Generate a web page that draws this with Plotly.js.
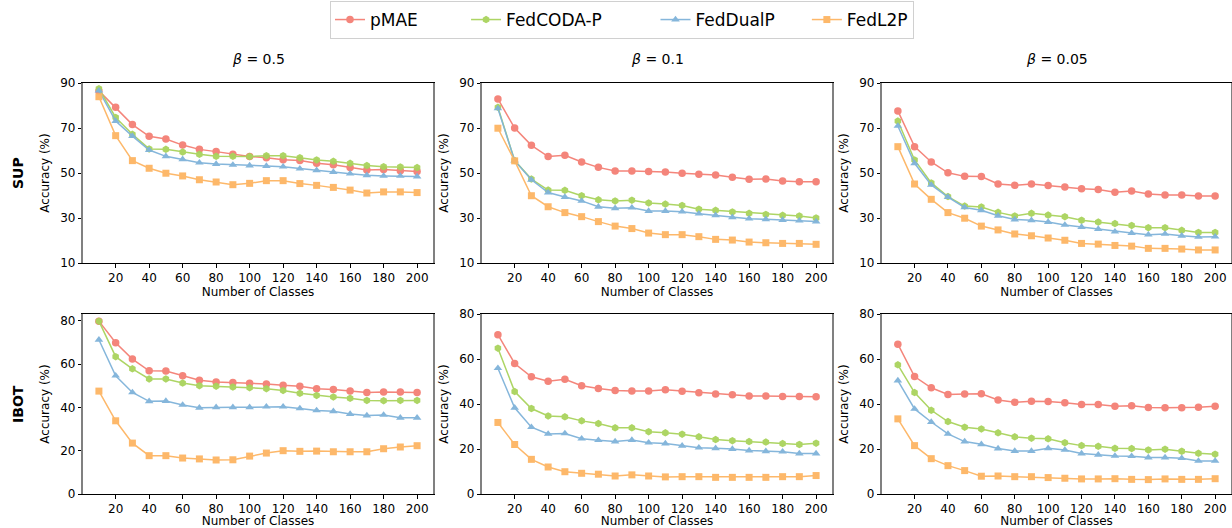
<!DOCTYPE html>
<html>
<head>
<meta charset="utf-8">
<script src="https://cdn.plot.ly/plotly-3.0.1.min.js"></script>
<style>
  html, body { margin: 0; padding: 0; background: #ffffff; }
  #chart { width: 1232px; height: 528px; }
</style>
</head>
<body>
<div id="chart"></div>
<script>
// ---------------- data ----------------
const classes = [10, 20, 30, 40, 50, 60, 70, 80, 90, 100, 110, 120, 130, 140, 150, 160, 170, 180, 190, 200];
const methods = ["pMAE", "FedCODA-P", "FedDualP", "FedL2P"];
const rowLabels = ["SUP", "IBOT"];
const betaLabels = ["0.5", "0.1", "0.05"];

// SUP, beta = 0.5
const sup05_pMAE     = [86.5, 79.2, 71.5, 66.3, 65.1, 62.4, 60.5, 59.5, 58.3, 57.3, 56.8, 55.9, 55.5, 54.3, 53.7, 52.4, 51.3, 51.5, 51.0, 50.7];
const sup05_FedCODA  = [87.5, 74.7, 67.2, 60.7, 60.5, 59.3, 58.3, 57.4, 57.4, 57.3, 57.7, 57.7, 56.8, 55.8, 55.2, 54.3, 53.3, 52.8, 52.7, 52.4];
const sup05_FedDualP = [86.6, 73.1, 66.4, 60.2, 57.4, 56.1, 54.6, 54.0, 53.6, 53.3, 53.1, 52.8, 51.9, 51.2, 50.4, 49.7, 49.0, 48.7, 48.7, 48.4];
const sup05_FedL2P   = [83.9, 66.6, 55.5, 52.1, 49.9, 48.7, 47.0, 46.0, 44.8, 45.4, 46.6, 46.6, 45.3, 44.5, 43.6, 42.4, 41.1, 41.6, 41.6, 41.3];

// SUP, beta = 0.1
const sup01_pMAE     = [82.9, 70.0, 62.3, 57.3, 57.9, 54.9, 52.5, 50.9, 50.9, 50.7, 50.4, 49.9, 49.4, 49.1, 48.1, 47.2, 47.3, 46.4, 46.1, 46.1];
const sup01_FedCODA  = [79.2, 55.5, 47.3, 42.4, 42.3, 39.9, 38.1, 37.6, 37.9, 36.7, 36.2, 35.6, 33.9, 33.4, 32.7, 32.1, 31.6, 31.2, 30.9, 30.0];
const sup01_FedDualP = [78.7, 55.5, 47.0, 41.3, 39.3, 37.6, 35.0, 34.3, 34.6, 33.1, 33.1, 32.8, 31.9, 31.2, 30.3, 29.7, 29.4, 29.1, 28.8, 28.4];
const sup01_FedL2P   = [69.9, 55.4, 39.9, 35.0, 32.4, 30.6, 28.4, 26.4, 25.3, 23.3, 22.6, 22.6, 21.7, 20.5, 20.2, 19.3, 19.0, 18.7, 18.7, 18.3];

// SUP, beta = 0.05
const sup005_pMAE     = [77.6, 61.7, 54.9, 50.1, 48.5, 48.4, 45.1, 44.5, 45.1, 44.4, 43.8, 43.0, 42.7, 41.4, 42.0, 40.7, 40.2, 40.2, 39.8, 39.8];
const sup005_FedCODA  = [73.1, 55.8, 45.6, 39.5, 35.3, 34.9, 32.5, 30.9, 32.1, 31.3, 30.6, 29.0, 28.2, 27.5, 26.7, 25.7, 25.7, 24.5, 23.6, 23.6];
const sup005_FedDualP = [70.9, 54.3, 44.7, 39.3, 34.7, 33.4, 31.0, 29.3, 29.0, 28.2, 26.9, 26.0, 25.1, 23.9, 23.3, 22.6, 22.9, 22.1, 21.6, 21.7];
const sup005_FedL2P   = [61.7, 45.1, 38.3, 32.4, 29.9, 26.4, 24.7, 22.9, 22.1, 21.1, 20.1, 18.7, 18.4, 17.8, 17.5, 16.5, 16.5, 16.2, 15.8, 15.8];

// IBOT, beta = 0.5
const ibot05_pMAE     = [79.8, 69.8, 62.3, 56.9, 56.8, 54.6, 52.5, 51.7, 51.5, 51.1, 50.8, 50.2, 49.7, 48.6, 48.3, 47.5, 46.9, 47.1, 47.1, 46.9];
const ibot05_FedCODA  = [79.8, 63.4, 57.8, 53.1, 53.1, 51.2, 50.0, 49.8, 49.4, 49.1, 48.6, 47.8, 46.5, 45.5, 44.8, 44.2, 43.2, 43.1, 43.2, 43.2];
const ibot05_FedDualP = [71.2, 54.6, 46.9, 42.8, 42.9, 41.1, 39.8, 40.0, 40.0, 40.0, 40.3, 40.3, 39.5, 38.6, 38.2, 36.9, 36.2, 36.5, 35.2, 35.2];
const ibot05_FedL2P   = [47.5, 33.8, 23.5, 17.7, 17.7, 16.6, 16.2, 15.7, 15.8, 17.5, 18.9, 20.0, 19.7, 19.8, 19.5, 19.5, 19.5, 20.9, 21.7, 22.3];

// IBOT, beta = 0.1
const ibot01_pMAE     = [70.8, 58.0, 52.1, 50.1, 51.0, 48.1, 46.9, 46.0, 45.8, 45.8, 46.3, 45.7, 45.0, 44.4, 44.1, 43.6, 43.6, 43.3, 43.3, 43.2];
const ibot01_FedCODA  = [64.8, 45.5, 38.0, 34.7, 34.3, 32.5, 31.3, 29.4, 29.4, 27.7, 27.2, 26.6, 25.4, 24.2, 23.7, 23.3, 23.1, 22.4, 22.0, 22.6];
const ibot01_FedDualP = [55.9, 38.3, 29.7, 26.7, 26.9, 24.6, 23.9, 23.3, 24.0, 22.8, 22.4, 21.4, 20.6, 20.3, 20.0, 19.3, 19.0, 18.8, 18.0, 18.0];
const ibot01_FedL2P   = [31.8, 22.0, 15.4, 12.0, 9.9, 9.2, 8.8, 8.0, 8.5, 8.0, 7.6, 7.7, 7.7, 7.4, 7.4, 7.4, 7.4, 7.7, 7.7, 8.2];

// IBOT, beta = 0.05
const ibot005_pMAE     = [66.6, 52.2, 47.2, 44.2, 44.4, 44.5, 41.8, 40.8, 41.2, 41.1, 40.5, 39.8, 39.8, 39.0, 39.2, 38.4, 38.3, 38.3, 38.6, 39.0];
const ibot005_FedCODA  = [57.4, 45.1, 37.2, 32.2, 29.7, 28.9, 27.2, 25.4, 24.8, 24.5, 22.8, 21.5, 21.2, 20.3, 20.2, 19.6, 19.9, 19.0, 18.1, 17.7];
const ibot005_FedDualP = [50.4, 37.8, 32.0, 26.7, 23.3, 22.1, 20.2, 19.1, 19.1, 20.3, 19.6, 18.0, 17.4, 16.9, 16.8, 16.2, 16.2, 15.9, 14.7, 14.7];
const ibot005_FedL2P   = [33.4, 21.5, 15.7, 12.6, 10.4, 7.9, 8.0, 7.7, 7.7, 7.3, 7.0, 6.7, 6.7, 6.8, 6.5, 6.4, 6.7, 6.5, 6.5, 6.8];

const xTicks = [20, 40, 60, 80, 100, 120, 140, 160, 180, 200];
const yTicksSup = [10, 30, 50, 70, 90];
const yTicksIbot = [0, 20, 40, 60, 80];

// ---------------- styling ----------------
const colors = ["#F47F74", "#A9D35C", "#7FB3DA", "#FDB563"];
const symbols = ["circle", "hexagon", "triangle-up", "square"];
const FONT = "DejaVu Sans, Verdana, sans-serif";
const NB = "\u00a0";
const legendPad = [8, 9, 5, 0];

const panels = [
  [sup05_pMAE, sup05_FedCODA, sup05_FedDualP, sup05_FedL2P],
  [sup01_pMAE, sup01_FedCODA, sup01_FedDualP, sup01_FedL2P],
  [sup005_pMAE, sup005_FedCODA, sup005_FedDualP, sup005_FedL2P],
  [ibot05_pMAE, ibot05_FedCODA, ibot05_FedDualP, ibot05_FedL2P],
  [ibot01_pMAE, ibot01_FedCODA, ibot01_FedDualP, ibot01_FedL2P],
  [ibot005_pMAE, ibot005_FedCODA, ibot005_FedDualP, ibot005_FedL2P]
];
const yRanges = [[10, 90], [10, 90], [10, 90], [0, 83.1], [0, 80], [0, 80]];

const W = 1232, H = 528;
const xPix = [[83, 433], [482, 832], [882, 1231]];
const yPix = [[83, 263], [314, 494]];

const traces = [];
const layout = {
  width: W, height: H,
  margin: {l: 0, r: 0, t: 0, b: 0},
  paper_bgcolor: "#ffffff",
  plot_bgcolor: "#ffffff",
  font: {family: FONT, size: 12, color: "#000000"},
  showlegend: true,
  legend: {
    orientation: "h",
    x: 622 / W, xanchor: "center",
    y: 1 - 1 / H, yanchor: "top",
    bordercolor: "#d0d0d0", borderwidth: 1,
    bgcolor: "#ffffff",
    font: {family: FONT, size: 17, color: "#000000"},
    itemwidth: 30,
    tracegroupgap: 0
  },
  annotations: [],
  shapes: []
};

for (let p = 0; p < 6; p++) {
  const row = Math.floor(p / 3), col = p % 3;
  const idx = p + 1;
  const xa = idx === 1 ? "x" : "x" + idx;
  const ya = idx === 1 ? "y" : "y" + idx;
  for (let m = 0; m < 4; m++) {
    traces.push({
      type: "scatter",
      mode: "lines+markers",
      x: classes,
      y: panels[p][m],
      xaxis: xa, yaxis: ya,
      name: methods[m] + NB.repeat(legendPad[m]),
      legendgroup: methods[m],
      showlegend: p === 0,
      line: {color: colors[m], width: 1.5},
      marker: {color: colors[m], symbol: symbols[m], size: m === 3 ? 7 : 7.5, line: {width: 0}},
      opacity: 0.95
    });
  }
  const xKey = idx === 1 ? "xaxis" : "xaxis" + idx;
  const yKey = idx === 1 ? "yaxis" : "yaxis" + idx;
  layout[xKey] = {
    domain: [xPix[col][0] / W, xPix[col][1] / W],
    anchor: ya,
    range: [0.5, 209.5],
    tickmode: "array", tickvals: xTicks, ticktext: xTicks.map(String),
    ticks: "outside", ticklen: 3.5, tickwidth: 1, tickcolor: "#000000",
    showline: true, linecolor: "#000000", linewidth: 1, mirror: true,
    showgrid: false, zeroline: false,
    tickfont: {family: FONT, size: 12, color: "#000000"},
    title: {text: "Number of Classes", font: {family: FONT, size: 12, color: "#000000"}, standoff: 2},
    automargin: false
  };
  const yt = row === 0 ? yTicksSup : yTicksIbot;
  layout[yKey] = {
    domain: [1 - yPix[row][1] / H, 1 - yPix[row][0] / H],
    anchor: xa,
    range: yRanges[p],
    tickmode: "array", tickvals: yt, ticktext: yt.map(String),
    ticks: "outside", ticklen: 3.5, tickwidth: 1, tickcolor: "#000000",
    showline: true, linecolor: "#808080", linewidth: 1.6, mirror: true,
    showgrid: false, zeroline: false,
    tickfont: {family: FONT, size: 12, color: "#000000"},
    title: {text: "Accuracy (%)", font: {family: FONT, size: 12, color: "#000000"}, standoff: 8},
    automargin: false
  };
  if (row === 0) {
    layout.annotations.push({
      xref: "paper", yref: "paper",
      x: (xPix[col][0] + xPix[col][1]) / 2 / W,
      y: 1 - 59 / H,
      xanchor: "center", yanchor: "middle",
      text: "<i>β</i> = " + betaLabels[col],
      showarrow: false,
      font: {family: FONT, size: 14, color: "#000000"}
    });
  }
}

for (let r = 0; r < 2; r++) {
  layout.annotations.push({
    xref: "paper", yref: "paper",
    x: 18 / W,
    y: 1 - ((yPix[r][0] + yPix[r][1]) / 2) / H,
    xanchor: "center", yanchor: "middle",
    text: "<b>" + rowLabels[r] + "</b>",
    textangle: -90,
    showarrow: false,
    font: {family: FONT, size: 14, color: "#000000"}
  });
}

Plotly.newPlot("chart", traces, layout, {displayModeBar: false, staticPlot: true});
</script>
</body>
</html>
